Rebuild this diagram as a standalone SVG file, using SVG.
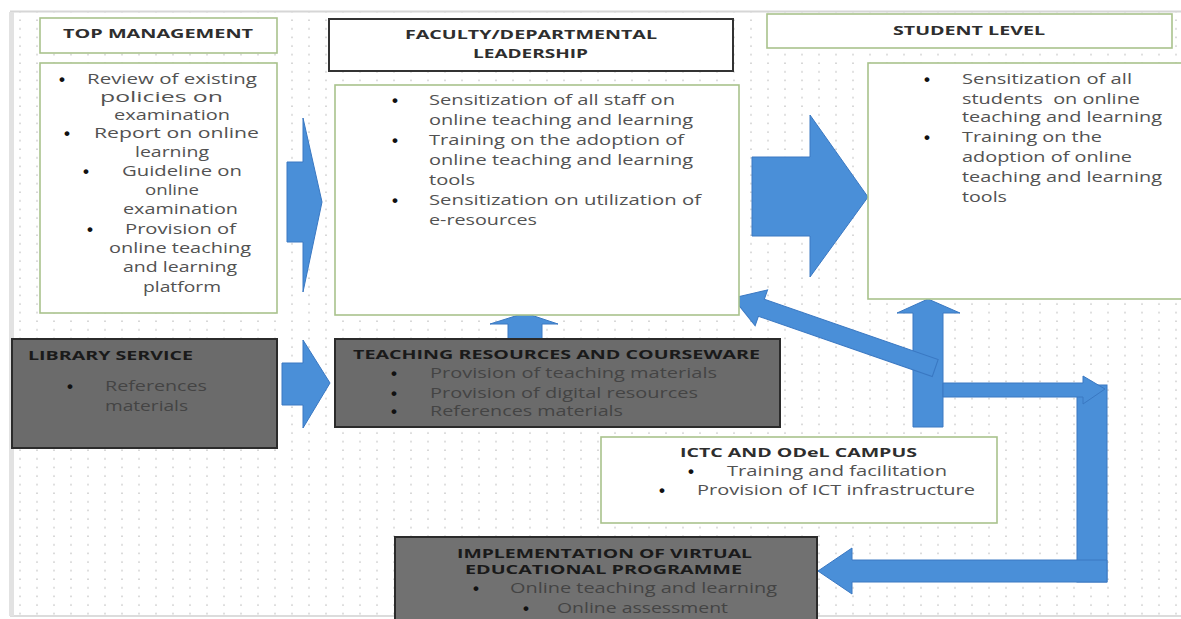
<svg xmlns="http://www.w3.org/2000/svg" width="1181" height="619" viewBox="0 0 1181 619">
<defs>
<pattern id="dots" width="17" height="8.6" patternUnits="userSpaceOnUse">
<circle cx="3" cy="3" r="0.9" fill="#cdcdcd"/>
</pattern>
<style>
.t{font-family:"Open Sans","Liberation Sans",sans-serif;font-size:14px;fill:#525252}
.h{font-family:"Open Sans","Liberation Sans",sans-serif;font-size:13px;font-weight:bold;fill:#2e2e2e}
.gt{font-family:"Open Sans","Liberation Sans",sans-serif;font-size:14px;fill:#444}
.gh{font-family:"Open Sans","Liberation Sans",sans-serif;font-size:13px;font-weight:bold;fill:#1a1a1a}
.bu{font-family:"Liberation Sans",sans-serif;font-size:17px;font-weight:bold;fill:#111}
.gbox{fill:#6b6b6b;stroke:#2b2b2b;stroke-width:2}
.wbox{fill:#ffffff;stroke:#a9c28c;stroke-width:1.6}
.arr{fill:#4a8fd8;stroke:#3a78c2;stroke-width:1}
</style>
</defs>
<rect x="0" y="0" width="1181" height="619" fill="#ffffff"/>
<rect x="10" y="12" width="1171" height="603" fill="#ffffff"/>
<rect x="10" y="12" width="1171" height="603" fill="url(#dots)"/>
<line x1="10" y1="11.5" x2="1181" y2="11.5" stroke="#d6d6d6" stroke-width="2"/>
<line x1="10" y1="616" x2="1181" y2="616" stroke="#dcdcdc" stroke-width="2"/>
<rect x="9" y="12" width="5" height="604" fill="#e2e2e2"/>

<g id="connectors">
<polygon class="arr" points="287,162 303,162 303,118 322,202 303,292 303,242 287,242"/>
<polygon class="arr" points="752,157 810,157 810,115 868,197 810,277 810,236 752,236"/>
<polygon class="arr" points="282,363 303,363 303,340 330,383 303,428 303,405 282,405"/>
<polygon class="arr" points="508,340 508,324 490,324 525,313 558,324 542,324 542,340"/>
<polygon class="arr" points="913,427 913,313 897,313 928,299 960,313 943,313 943,427"/>
<polygon class="arr" points="0,0 30,-19 30,-9 214,-9 214,9 30,9 30,19" transform="translate(733,298) rotate(19.1)"/>
<rect class="arr" x="1077" y="385" width="30" height="197"/>
<polygon class="arr" points="943,383 1083,383 1083,376 1105,389 1083,404 1083,397 943,397"/>
<polygon class="arr" points="1107,560 1107,582 852,582 852,594 818,571 852,548 852,560"/>
</g>

<g id="top-management-header">
<rect class="wbox" x="40" y="18" width="237" height="35"/>
<text class="h" x="63" y="38" textLength="190" lengthAdjust="spacingAndGlyphs">TOP MANAGEMENT</text>
</g>
<g id="top-management">
<rect class="wbox" x="40" y="63" width="237" height="250"/>
<text class="bu" x="59" y="85">•</text>
<text class="t" x="87" y="84" textLength="170" lengthAdjust="spacingAndGlyphs">Review of existing</text>
<text class="t" x="100" y="102" textLength="123" lengthAdjust="spacingAndGlyphs">policies on</text>
<text class="t" x="114" y="120" textLength="116" lengthAdjust="spacingAndGlyphs">examination</text>
<text class="bu" x="64" y="139">•</text>
<text class="t" x="94" y="138" textLength="165" lengthAdjust="spacingAndGlyphs">Report on online</text>
<text class="t" x="135" y="157" textLength="74" lengthAdjust="spacingAndGlyphs">learning</text>
<text class="bu" x="83" y="177">•</text>
<text class="t" x="122" y="176" textLength="120" lengthAdjust="spacingAndGlyphs">Guideline on</text>
<text class="t" x="145" y="195" textLength="54" lengthAdjust="spacingAndGlyphs">online</text>
<text class="t" x="123" y="214" textLength="115" lengthAdjust="spacingAndGlyphs">examination</text>
<text class="bu" x="87" y="235">•</text>
<text class="t" x="125" y="234" textLength="111" lengthAdjust="spacingAndGlyphs">Provision of</text>
<text class="t" x="109" y="253" textLength="142" lengthAdjust="spacingAndGlyphs">online teaching</text>
<text class="t" x="123" y="272" textLength="114" lengthAdjust="spacingAndGlyphs">and learning</text>
<text class="t" x="143" y="292" textLength="78" lengthAdjust="spacingAndGlyphs">platform</text>
</g>

<g id="faculty-header">
<rect x="329" y="19" width="404" height="52" fill="#ffffff" stroke="#333" stroke-width="2"/>
<text class="h" x="405" y="39" textLength="252" lengthAdjust="spacingAndGlyphs">FACULTY/DEPARTMENTAL</text>
<text class="h" x="473" y="58" textLength="115" lengthAdjust="spacingAndGlyphs">LEADERSHIP</text>
</g>
<g id="faculty">
<rect class="wbox" x="335" y="85" width="404" height="230"/>
<text class="bu" x="392" y="106">•</text>
<text class="t" x="429" y="105" textLength="246" lengthAdjust="spacingAndGlyphs">Sensitization of all staff on</text>
<text class="t" x="429" y="125" textLength="264" lengthAdjust="spacingAndGlyphs">online teaching and learning</text>
<text class="bu" x="392" y="146">•</text>
<text class="t" x="429" y="145" textLength="255" lengthAdjust="spacingAndGlyphs">Training on the adoption of</text>
<text class="t" x="429" y="165" textLength="264" lengthAdjust="spacingAndGlyphs">online teaching and learning</text>
<text class="t" x="429" y="185" textLength="46" lengthAdjust="spacingAndGlyphs">tools</text>
<text class="bu" x="392" y="206">•</text>
<text class="t" x="429" y="205" textLength="272" lengthAdjust="spacingAndGlyphs">Sensitization on utilization of</text>
<text class="t" x="429" y="225" textLength="108" lengthAdjust="spacingAndGlyphs">e-resources</text>
</g>

<g id="student-header">
<rect class="wbox" x="767" y="14" width="405" height="34"/>
<text class="h" x="893" y="35" textLength="152" lengthAdjust="spacingAndGlyphs">STUDENT LEVEL</text>
</g>
<g id="student">
<rect class="wbox" x="868" y="63" width="320" height="236"/>
<text class="bu" x="924" y="85">•</text>
<text class="t" x="962" y="84" textLength="170" lengthAdjust="spacingAndGlyphs">Sensitization of all</text>
<text class="t" x="962" y="104" textLength="178" lengthAdjust="spacingAndGlyphs" xml:space="preserve">students  on online</text>
<text class="t" x="962" y="122" textLength="200" lengthAdjust="spacingAndGlyphs">teaching and learning</text>
<text class="bu" x="924" y="143">•</text>
<text class="t" x="962" y="142" textLength="140" lengthAdjust="spacingAndGlyphs">Training on the</text>
<text class="t" x="962" y="162" textLength="170" lengthAdjust="spacingAndGlyphs">adoption of online</text>
<text class="t" x="962" y="182" textLength="200" lengthAdjust="spacingAndGlyphs">teaching and learning</text>
<text class="t" x="962" y="202" textLength="45" lengthAdjust="spacingAndGlyphs">tools</text>
</g>

<g id="library-service">
<rect class="gbox" x="12" y="339" width="265" height="109"/>
<text class="gh" x="28" y="360" textLength="165" lengthAdjust="spacingAndGlyphs">LIBRARY SERVICE</text>
<text class="bu" x="67" y="392">•</text>
<text class="gt" x="105" y="391" textLength="102" lengthAdjust="spacingAndGlyphs">References</text>
<text class="gt" x="105" y="411" textLength="83" lengthAdjust="spacingAndGlyphs">materials</text>
</g>

<g id="teaching-resources">
<rect class="gbox" x="335" y="339" width="445" height="88"/>
<text class="gh" x="353" y="359" textLength="407" lengthAdjust="spacingAndGlyphs">TEACHING RESOURCES AND COURSEWARE</text>
<text class="bu" x="391" y="379">•</text>
<text class="gt" x="430" y="378" textLength="287" lengthAdjust="spacingAndGlyphs">Provision of teaching materials</text>
<text class="bu" x="391" y="399">•</text>
<text class="gt" x="430" y="398" textLength="268" lengthAdjust="spacingAndGlyphs">Provision of digital resources</text>
<text class="bu" x="391" y="417">•</text>
<text class="gt" x="430" y="416" textLength="193" lengthAdjust="spacingAndGlyphs">References materials</text>
</g>

<g id="ictc-odel">
<rect class="wbox" x="601" y="437" width="396" height="86"/>
<text class="h" x="680" y="457" textLength="237" lengthAdjust="spacingAndGlyphs">ICTC AND ODeL CAMPUS</text>
<text class="bu" x="688" y="477">•</text>
<text class="t" x="727" y="476" textLength="220" lengthAdjust="spacingAndGlyphs">Training and facilitation</text>
<text class="bu" x="659" y="496">•</text>
<text class="t" x="697" y="495" textLength="278" lengthAdjust="spacingAndGlyphs">Provision of ICT infrastructure</text>
</g>

<g id="implementation">
<rect x="395" y="537" width="422" height="90" fill="#717171" stroke="#2b2b2b" stroke-width="2"/>
<text class="gh" x="457" y="558" textLength="295" lengthAdjust="spacingAndGlyphs">IMPLEMENTATION OF VIRTUAL</text>
<text class="gh" x="465" y="574" textLength="277" lengthAdjust="spacingAndGlyphs">EDUCATIONAL PROGRAMME</text>
<text class="bu" x="473" y="594">•</text>
<text class="gt" x="510" y="593" textLength="267" lengthAdjust="spacingAndGlyphs">Online teaching and learning</text>
<text class="bu" x="523" y="614">•</text>
<text class="gt" x="557" y="613" textLength="171" lengthAdjust="spacingAndGlyphs">Online assessment</text>
</g>
</svg>
